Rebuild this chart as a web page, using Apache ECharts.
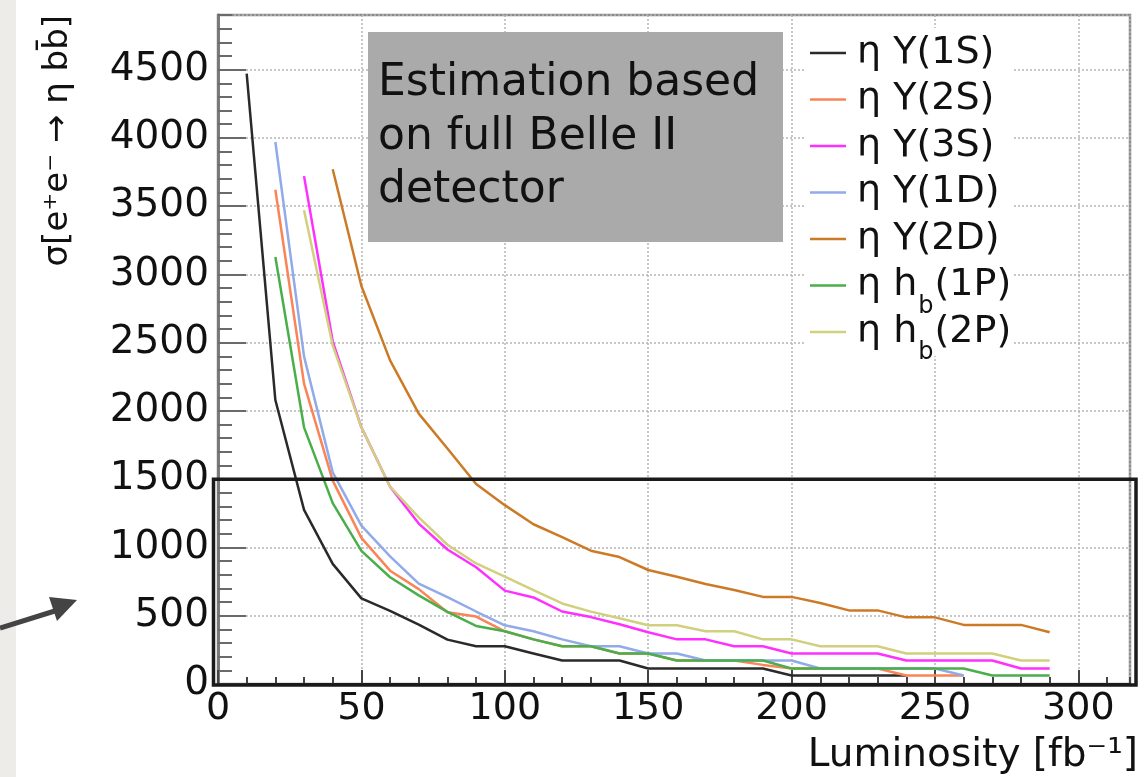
<!DOCTYPE html>
<html>
<head>
<meta charset="utf-8">
<script src="https://cdn.jsdelivr.net/npm/echarts@6/dist/echarts.min.js"></script>
<style>
html,body{margin:0;padding:0;background:#ffffff;}
#chart{width:1146px;height:777px;}
</style>
</head>
<body>
<div id="chart"></div>
<script>
// ---------- data ----------
const luminosity = [10,20,30,40,50,60,70,80,90,100,110,120,130,140,150,160,170,180,190,200,210,220,230,240,250,260,270,280,290];
const seriesNames = ['η Υ(1S)','η Υ(2S)','η Υ(3S)','η Υ(1D)','η Υ(2D)','η h_b(1P)','η h_b(2P)'];
const sigma1S = [4470,2080,1275,880,627,535,435,325,276,276,224,172,172,172,113,113,113,113,113,62,62,62,62,62,null,null,null,null,null];
const sigma2S = [null,3620,2200,1490,1070,830,695,525,494,386,327,276,276,224,224,172,172,172,140,113,113,113,113,62,62,62,null,null,null];
const sigma3S = [null,null,3720,2510,1880,1445,1175,985,855,684,634,531,490,438,379,327,327,276,276,224,224,224,224,172,172,172,172,113,113];
const sigma1D = [null,3970,2400,1550,1160,935,735,636,531,430,386,327,276,276,224,224,172,172,172,172,113,113,113,113,113,62,null,null,null];
const sigma2D = [null,null,null,3770,2915,2370,1980,1725,1465,1310,1170,1076,976,930,835,786,732,688,638,638,593,539,539,488,488,433,433,433,379];
const sigma1P = [null,3127,1880,1325,975,782,649,528,425,386,327,276,276,224,224,172,172,172,172,113,113,113,113,113,113,113,62,62,62];
const sigma2P = [null,null,3470,2480,1880,1445,1220,1020,883,786,688,590,530,481,430,430,386,386,327,327,276,276,276,224,224,224,224,172,172];
const allSigma = [sigma1S, sigma2S, sigma3S, sigma1D, sigma2D, sigma1P, sigma2P];

const xMin = 0, xMax = 318, xMajor = 50, xMinor = 10;
const yMin = 0, yMax = 4900, yMajor = 500, yMinor = 100;
const highlightLevel = 1500;
const xTitle = 'Luminosity [fb⁻¹]';
const yTitle = 'σ[e⁺e⁻ → η bb̄]';
const boxText = 'Estimation based\non full Belle II\ndetector';

// ---------- styles ----------
const colors = ['#2a2a2a','#fa8456','#ff30ff','#90aaea','#cd7a26','#4aae4a','#d0d07e'];
const FONT = 'DejaVu Sans';

const series = seriesNames.map((name, k) => ({
  name: name,
  type: 'line',
  xAxisIndex: 0,
  yAxisIndex: 0,
  symbol: 'none',
  showSymbol: false,
  silent: true,
  z: 2 + k * 0.1,
  lineStyle: { color: colors[k], width: 2.5 },
  itemStyle: { color: colors[k] },
  data: luminosity.map((x, i) => [x, allSigma[k][i]]).filter(p => p[1] !== null)
}));

const option = {
  animation: false,
  backgroundColor: '#ffffff',
  grid: [
    { left: 218, right: 16, top: 15, bottom: 93, containLabel: false, outerBoundsMode: 'none',
      show: true, borderColor: '#8a8a8a', borderWidth: 2.5, backgroundColor: 'transparent' },
    { left: 218, right: 16, top: 15, bottom: 93, containLabel: false, outerBoundsMode: 'none', show: false }
  ],
  xAxis: [
    { type: 'value', gridIndex: 0, min: xMin, max: xMax, interval: xMajor,
      axisLine: { show: true, lineStyle: { color: '#222', width: 3 } },
      axisTick: { show: true, inside: true, length: 14, lineStyle: { color: '#444', width: 2 } },
      axisLabel: { show: true, showMaxLabel: false, margin: 6, color: '#111', fontFamily: FONT, fontSize: 38,
                   formatter: v => String(v) },
      splitLine: { show: true, lineStyle: { color: '#b5b5b5', width: 1.5, type: [2, 2] } }
    },
    { type: 'value', gridIndex: 1, min: xMin, max: xMax, interval: xMinor,
      axisLine: { show: false },
      axisTick: { show: true, inside: true, length: 7, lineStyle: { color: '#444', width: 2 } },
      axisLabel: { show: false }, splitLine: { show: false }
    }
  ],
  yAxis: [
    { type: 'value', gridIndex: 0, min: yMin, max: yMax, interval: yMajor,
      axisLine: { show: true, lineStyle: { color: '#7a7a7a', width: 3 } },
      axisTick: { show: true, inside: true, length: 28, lineStyle: { color: '#6a6a6a', width: 2 } },
      axisLabel: { show: true, showMaxLabel: false, margin: 9, color: '#111', fontFamily: FONT, fontSize: 39,
                   formatter: v => String(v) },
      splitLine: { show: true, lineStyle: { color: '#b5b5b5', width: 1.5, type: [2, 2] } }
    },
    { type: 'value', gridIndex: 1, min: yMin, max: yMax, interval: yMinor,
      axisLine: { show: false },
      axisTick: { show: true, inside: true, length: 14, lineStyle: { color: '#6a6a6a', width: 2 } },
      axisLabel: { show: false }, splitLine: { show: false }
    }
  ],
  legend: { show: false, data: seriesNames },
  series: series
};

const chart = echarts.init(document.getElementById('chart'), null, { renderer: 'canvas' });
chart.setOption(option);

// annotations placed through the axes
const yHi = chart.convertToPixel({ yAxisIndex: 0 }, highlightLevel);
const y0 = chart.convertToPixel({ yAxisIndex: 0 }, yMin);
const x0 = chart.convertToPixel({ xAxisIndex: 0 }, xMin);
const xR = chart.convertToPixel({ xAxisIndex: 0 }, xMax);

// legend (ROOT style: line sample + text, subscript for h_b)
const LEG_X = 810, LEG_Y = 53, LEG_STEP = 46.5, LEG_TX = 857;
const mainFont = '38px "DejaVu Sans"', subFont = '24px "DejaVu Sans"';
const mctx = document.createElement('canvas').getContext('2d');
function textW(t, f) { mctx.font = f; return mctx.measureText(t).width; }

const legendEls = [
  { id: 'legBg', type: 'rect', z: 40, silent: true,
    shape: { x: 804, y: 28, width: 208, height: 328 }, style: { fill: '#ffffff' } }
];
seriesNames.forEach((name, k) => {
  const y = LEG_Y + LEG_STEP * k;
  legendEls.push({ id: 'legLine' + k, type: 'line', z: 41, silent: true,
    shape: { x1: LEG_X, y1: y, x2: LEG_X + 36, y2: y }, style: { stroke: colors[k], lineWidth: 2.5 } });
  const m = name.match(/^(.*)_(.)(.*)$/);
  if (!m) {
    legendEls.push({ id: 'legTxt' + k, type: 'text', z: 41, silent: true, x: LEG_TX, y: y,
      style: { text: name, fill: '#111', font: mainFont, align: 'left', verticalAlign: 'middle' } });
  } else {
    const w1 = textW(m[1], mainFont), w2 = textW(m[2], subFont);
    legendEls.push({ id: 'legTxt' + k, type: 'text', z: 41, silent: true, x: LEG_TX, y: y,
      style: { text: m[1], fill: '#111', font: mainFont, align: 'left', verticalAlign: 'middle' } });
    legendEls.push({ id: 'legSub' + k, type: 'text', z: 41, silent: true, x: LEG_TX + w1 + 1, y: y + 21,
      style: { text: m[2], fill: '#111', font: subFont, align: 'left', verticalAlign: 'middle' } });
    legendEls.push({ id: 'legEnd' + k, type: 'text', z: 41, silent: true, x: LEG_TX + w1 + w2 + 2, y: y,
      style: { text: m[3], fill: '#111', font: mainFont, align: 'left', verticalAlign: 'middle' } });
  }
});

chart.setOption({
  graphic: [
    { id: 'strip', type: 'rect', z: -10, silent: true,
      shape: { x: 0, y: 0, width: 16, height: 777 }, style: { fill: '#eeece8' } },
    { id: 'arrowShaft', type: 'line', z: 20, silent: true,
      shape: { x1: 0, y1: 628, x2: 58, y2: 610 }, style: { stroke: '#444', lineWidth: 5 } },
    { id: 'arrowHead', type: 'polygon', z: 20, silent: true,
      shape: { points: [[77, 600], [49, 597], [57, 621]] }, style: { fill: '#444' } },
    { id: 'textBox', type: 'rect', z: 5, silent: true,
      shape: { x: 368, y: 32, width: 415, height: 210 }, style: { fill: '#aaaaaa' } },
    { id: 'textBoxText', type: 'text', z: 6, silent: true, x: 378, y: 57,
      style: { text: boxText, fill: '#111', font: '44px "DejaVu Sans"', lineHeight: 53.5,
               align: 'left', verticalAlign: 'top' } },
    { id: 'hiBox', type: 'rect', z: 30, silent: true,
      shape: { x: x0 - 4.5, y: yHi, width: (xR + 6) - (x0 - 4.5), height: (y0 + 1) - yHi },
      style: { fill: 'none', stroke: '#1a1a1a', lineWidth: 3.5 } },
    { id: 'xTitle', type: 'text', z: 10, silent: true, x: 1138, y: 756,
      style: { text: xTitle, fill: '#111', font: '39px "DejaVu Sans"', align: 'right', verticalAlign: 'middle' } },
    { id: 'yTitle', type: 'text', z: 10, silent: true, x: 58, y: 15, rotation: Math.PI / 2,
      style: { text: yTitle, fill: '#111', font: '34px "DejaVu Sans"', align: 'right', verticalAlign: 'middle' } }
  ].concat(legendEls)
});
</script>
</body>
</html>
